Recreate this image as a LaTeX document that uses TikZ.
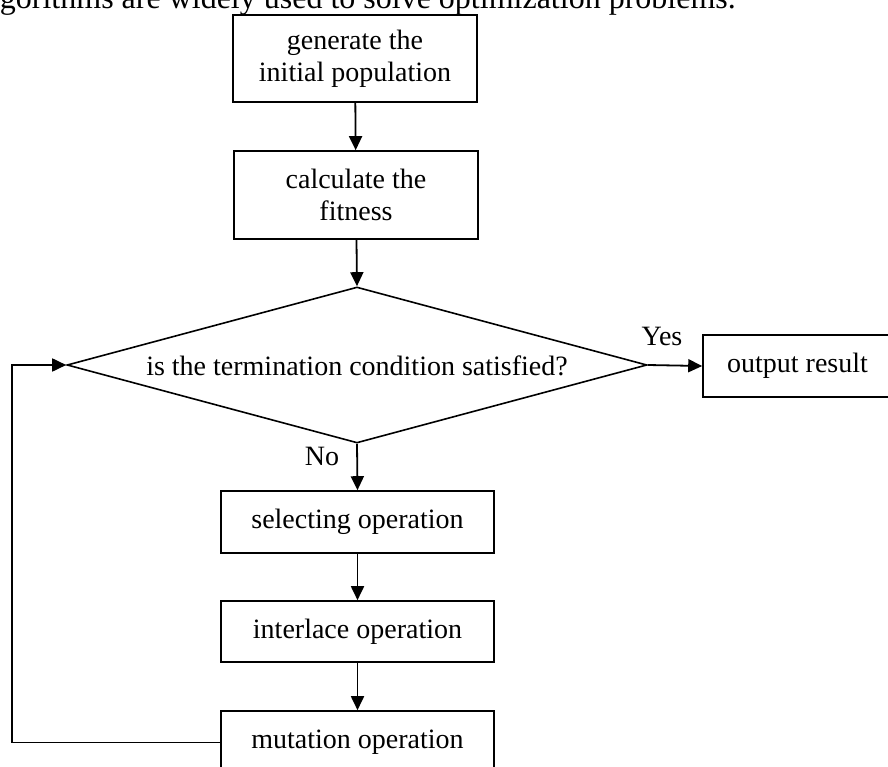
\documentclass[tikz,border=0pt]{standalone}
\usepackage{fontspec}
\setmainfont{Liberation Serif}
\usetikzlibrary{shapes.geometric,arrows.meta}
\begin{document}
\begin{tikzpicture}[x=1pt,y=-1pt,
  every node/.style={font=\fontsize{28}{32}\selectfont},
  procbox/.style={draw,line width=1.6pt,inner sep=0pt,align=center},
  conn/.style={line width=1.8pt,-{Triangle[length=14pt,width=13pt]}},
  plainline/.style={line width=1.6pt}]
\useasboundingbox (0,0) rectangle (888,767);
\node[anchor=base east,inner sep=0pt,font=\fontsize{32}{36}\selectfont] (toptext) at (736,9) {gorithms are widely used to solve optimization problems.};
\node[procbox,minimum width=244pt,minimum height=87pt] (gen) at (355,58.5) {generate the\\initial population};
\node[procbox,minimum width=244pt,minimum height=88pt] (fit) at (356,195) {calculate the\\fitness};
\node[diamond,draw,line width=1.6pt,inner sep=0pt,minimum width=580pt,minimum height=156pt] (dec) at (357,365) {};
\node (dectext) at (357,366) {is the termination condition satisfied?};
\node[procbox,minimum width=189pt,minimum height=62pt] (out) at (797.5,366) {output result};
\node[procbox,minimum width=273pt,minimum height=62pt] (sel) at (357.5,522) {selecting operation};
\node[procbox,minimum width=273pt,minimum height=61pt] (inter) at (357.5,631.5) {interlace operation};
\node[procbox,minimum width=273pt,minimum height=63pt] (mut) at (357.5,742.5) {mutation operation};
\node (yes) at (662,336) {Yes};
\node (no) at (322,456) {No};
\coordinate (lp) at (12,743);
\draw[conn] (gen) -- (fit);
\draw[conn] (fit) -- (dec.north);
\draw[conn] (dec.east) -- (out.west);
\draw[conn] (dec.south) -- (sel.north);
\draw[conn] (sel) -- (inter);
\draw[conn] (inter) -- (mut);
\draw[conn] (mut.west) -- (mut.west -| lp) |- (dec.west);
\end{tikzpicture}
\end{document}
